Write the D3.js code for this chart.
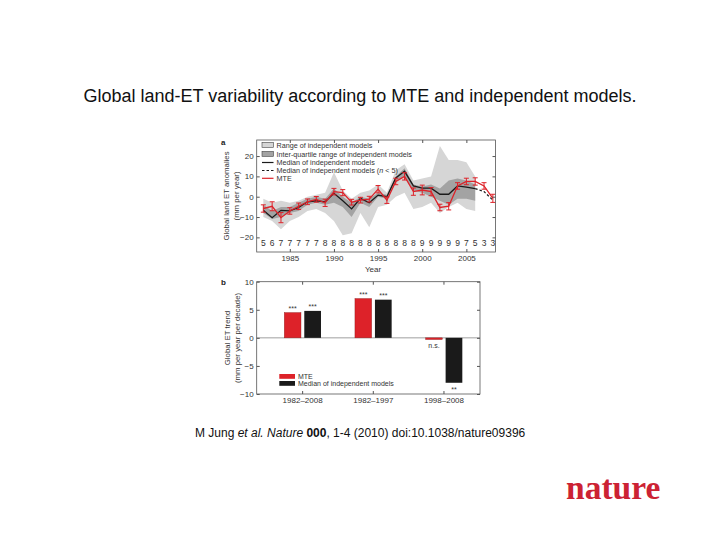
<!DOCTYPE html>
<html><head><meta charset="utf-8">
<script src="https://cdn.jsdelivr.net/npm/d3@7"></script>
<style>body{margin:0;background:#fff;} svg{display:block;font-family:"Liberation Sans",Arial,sans-serif;}</style>
</head><body>
<script>
// ---- Panel a data ----
const years = [1982,1983,1984,1985,1986,1987,1988,1989,1990,1991,1992,1993,1994,1995,1996,1997,1998,1999,2000,2001,2002,2003,2004,2005,2006,2007,2008];
const mte = [-5.8,-4.7,-10.3,-7,-4.7,-2.5,-1.3,-3,2.5,2,-2.7,-1.7,-1.2,3.7,-1.7,7.5,10,2.5,3.3,2.5,-5.3,-4.7,5.3,7.5,7.5,5.3,-0.8];
const mteErr = [1.8,2.2,2.5,1.6,1.6,1.4,1.4,1.8,1.6,1.5,1.4,1.4,1.4,1.8,1.6,1.6,1.8,1.8,2.4,2.0,1.6,1.8,1.6,1.6,1.8,1.6,2.0];
const counts = [5,6,7,7,7,7,7,8,8,8,8,8,8,8,8,8,8,8,9,9,9,9,9,7,5,3,3];
const modelYears = [1982,1983,1984,1985,1986,1987,1988,1989,1990,1991,1992,1993,1994,1995,1996,1997,1998,1999,2000,2001,2002,2003,2004,2005,2006];
const median = [-6.7,-10.3,-6.7,-7,-5.3,-2.5,-2,-2.5,1.7,-2,-6,-0.8,-3,0.8,0,9.2,12.5,5.3,4.2,4.2,1.2,1.2,5.3,4.7,4];
const rangeMax = [-1,-3,-2,-3,-2,0,1,2,12,3,-1,2,3,6,2,13,16,8,9,10,25,18,18,17,10];
const rangeMin = [-10,-12,-16,-12,-10,-7,-6,-8,-12,-19,-18,-8,-15,-5,-4,0,2,-6,-5,-3,-8,-5,-3,-6,-7];
const iqrHigh = [-4,-7,-5,-5,-3,-1,0,-1,4,0,-3,0,-1,2,1,10,14,6,5,6,4,8,9,8,6];
const iqrLow = [-8,-11,-10,-8,-7,-4,-3,-4,-3,-5,-10,-3,-5,0,-1,7,10,3,2,0,-2,-4,-1,-1,-2];
const tailYears = [2006,2007,2008];
const tailMedian = [4,2.5,-1.7];
const xTicksA = [1985,1990,1995,2000,2005];
const yTicksA = [-20,-10,0,10,20];
const legendA = ["Range of independent models","Inter-quartile range of independent models","Median of independent models","Median of independent models (n < 5)","MTE"];

// ---- Panel b data ----
const periods = ["1982–2008","1982–1997","1998–2008"];
const trendMTE = [4.5,7.0,-0.3];
const trendMedian = [4.8,6.8,-8.0];
const sigMTE = ["***","***","n.s."];
const sigMedian = ["***","***","**"];
const yTicksB = [-10,-5,0,5,10];
const legendB = ["MTE","Median of independent models"];

const RED = "#dd2229", DARK = "#1a1a1a", FRAME = "#555";
const svg = d3.select("body").append("svg").attr("width",720).attr("height",540);

// Title
svg.append("text").attr("x",360).attr("y",102).attr("text-anchor","middle")
  .attr("font-size",18).attr("fill","#111")
  .text("Global land-ET variability according to MTE and independent models.");

// ===== Panel a =====
const ax = {l:256.7, r:495.5, t:140, b:252};
const x = d3.scaleLinear().domain([1981.25,2008.3]).range([ax.l,ax.r]);
const y = d3.scaleLinear().domain([-27.2,27.9]).range([ax.b,ax.t]);
const ga = svg.append("g");

const areaR = d3.area().x((d,i)=>x(modelYears[i])).y0((d,i)=>y(rangeMin[i])).y1((d,i)=>y(rangeMax[i]));
ga.append("path").datum(modelYears).attr("d",areaR).attr("fill","#d6d6d6");
const areaQ = d3.area().x((d,i)=>x(modelYears[i])).y0((d,i)=>y(iqrLow[i])).y1((d,i)=>y(iqrHigh[i]));
ga.append("path").datum(modelYears).attr("d",areaQ).attr("fill","#a3a3a3");

const lineMed = d3.line().x((d,i)=>x(modelYears[i])).y((d,i)=>y(median[i]));
ga.append("path").datum(modelYears).attr("d",lineMed).attr("fill","none").attr("stroke",DARK).attr("stroke-width",1.3);
const lineTail = d3.line().x((d,i)=>x(tailYears[i])).y((d,i)=>y(tailMedian[i]));
ga.append("path").datum(tailYears).attr("d",lineTail).attr("fill","none").attr("stroke",DARK).attr("stroke-width",1.2).attr("stroke-dasharray","2.5,2");

// MTE error bars
years.forEach((yr,i)=>{
  const cx=x(yr), y1=y(mte[i]+mteErr[i]), y2=y(mte[i]-mteErr[i]);
  ga.append("line").attr("x1",cx).attr("x2",cx).attr("y1",y1).attr("y2",y2).attr("stroke",RED).attr("stroke-width",1);
  [y1,y2].forEach(yy=>ga.append("line").attr("x1",cx-2.5).attr("x2",cx+2.5).attr("y1",yy).attr("y2",yy).attr("stroke",RED).attr("stroke-width",1));
});
const lineMTE = d3.line().x((d,i)=>x(years[i])).y((d,i)=>y(mte[i]));
ga.append("path").datum(years).attr("d",lineMTE).attr("fill","none").attr("stroke",RED).attr("stroke-width",1.3);

// counts
years.forEach((yr,i)=>ga.append("text").attr("x",x(yr)).attr("y",246.3).attr("text-anchor","middle")
  .attr("font-size",8.5).attr("fill","#333").text(counts[i]));

// frame + ticks
ga.append("rect").attr("x",ax.l).attr("y",ax.t).attr("width",ax.r-ax.l).attr("height",ax.b-ax.t)
  .attr("fill","none").attr("stroke",FRAME).attr("stroke-width",0.8);
const axB = d3.axisBottom(x).tickValues(xTicksA).tickSize(-3).tickFormat(d3.format("d"));
const gxa = ga.append("g").attr("transform",`translate(0,${ax.b})`).call(axB);
const axT = d3.axisTop(x).tickValues(xTicksA).tickSize(-3).tickFormat("");
ga.append("g").attr("transform",`translate(0,${ax.t})`).call(axT);
const axL = d3.axisLeft(y).tickValues(yTicksA).tickSize(-3);
ga.append("g").attr("transform",`translate(${ax.l},0)`).call(axL);
const axR = d3.axisRight(y).tickValues(yTicksA).tickSize(-3).tickFormat("");
ga.append("g").attr("transform",`translate(${ax.r},0)`).call(axR);
ga.selectAll(".domain").remove();
ga.selectAll(".tick line").attr("stroke",FRAME);
ga.selectAll(".tick text").attr("font-size",8).attr("fill","#333").attr("font-family","Liberation Sans, Arial");

ga.append("text").attr("x",(ax.l+ax.r)/2-3).attr("y",271.5).attr("text-anchor","middle").attr("font-size",8).attr("fill","#333").text("Year");
ga.append("text").attr("transform","translate(229,196) rotate(-90)").attr("text-anchor","middle").attr("font-size",7.8).attr("fill","#333").text("Global land ET anomalies");
ga.append("text").attr("transform","translate(239,196) rotate(-90)").attr("text-anchor","middle").attr("font-size",7.8).attr("fill","#333").text("(mm per year)");
ga.append("text").attr("x",221).attr("y",145).attr("font-size",8).attr("font-weight","bold").attr("fill","#222").text("a");

// legend a
const legY = [145,154,162.5,170.5,178.3];
legendA.forEach((t,i)=>{
  const ly = legY[i];
  if(i<2){
    ga.append("rect").attr("x",262).attr("y",ly-2.6).attr("width",11.5).attr("height",5).attr("fill",i===0?"#d6d6d6":"#a3a3a3").attr("stroke","#444").attr("stroke-width",0.6);
  } else {
    ga.append("line").attr("x1",262).attr("x2",273.5).attr("y1",ly).attr("y2",ly)
      .attr("stroke",i===4?RED:DARK).attr("stroke-width",1.2).attr("stroke-dasharray",i===3?"2.5,2":null);
  }
  const tx = ga.append("text").attr("x",276.5).attr("y",ly+2.5).attr("font-size",7.2).attr("fill","#333");
  if(i===3){ tx.text("Median of independent models ("); tx.append("tspan").attr("font-style","italic").text("n"); tx.append("tspan").text(" < 5)"); }
  else tx.text(t);
});

// ===== Panel b =====
const bx = {l:256.7, r:480, t:281.7, b:394};
const xb = d3.scaleBand().domain(periods).range([267.3,479.3]);
const yb = d3.scaleLinear().domain([-10,10]).range([bx.b,bx.t]);
const gb = svg.append("g");
gb.append("line").attr("x1",bx.l).attr("x2",bx.r).attr("y1",yb(0)).attr("y2",yb(0)).attr("stroke","#888").attr("stroke-width",0.8);
const bw = 16.7;
periods.forEach((p,i)=>{
  const c = xb(p)+xb.bandwidth()/2;
  const v1=trendMTE[i], v2=trendMedian[i];
  gb.append("rect").attr("x",c-10-bw/2).attr("y",yb(Math.max(0,v1))).attr("width",bw).attr("height",Math.abs(yb(v1)-yb(0))).attr("fill",RED).attr("stroke","#8a1a1a").attr("stroke-width",0.4);
  gb.append("rect").attr("x",c+10-bw/2).attr("y",yb(Math.max(0,v2))).attr("width",bw).attr("height",Math.abs(yb(v2)-yb(0))).attr("fill",DARK);
  const ty1 = v1>=0 ? yb(v1)-2 : yb(v1)+8.5;
  const ty2 = v2>=0 ? yb(v2)-2 : yb(v2)+9.5;
  gb.append("text").attr("x",c-10).attr("y",ty1).attr("text-anchor","middle").attr("font-size",7).attr("fill","#333").text(sigMTE[i]);
  gb.append("text").attr("x",c+10).attr("y",ty2).attr("text-anchor","middle").attr("font-size",7).attr("fill","#333").text(sigMedian[i]);
});
gb.append("rect").attr("x",bx.l).attr("y",bx.t).attr("width",bx.r-bx.l).attr("height",bx.b-bx.t).attr("fill","none").attr("stroke",FRAME).attr("stroke-width",0.8);
const bB = d3.axisBottom(xb).tickSize(-3);
const gxb = gb.append("g").attr("transform",`translate(0,${bx.b})`).call(bB);
const bT = d3.axisTop(xb).tickSize(-3).tickFormat("");
gb.append("g").attr("transform",`translate(0,${bx.t})`).call(bT);
const bL = d3.axisLeft(yb).tickValues(yTicksB).tickSize(-3);
gb.append("g").attr("transform",`translate(${bx.l},0)`).call(bL);
const bR = d3.axisRight(yb).tickValues(yTicksB).tickSize(-3).tickFormat("");
gb.append("g").attr("transform",`translate(${bx.r},0)`).call(bR);
gb.selectAll(".domain").remove();
gb.selectAll(".tick line").attr("stroke",FRAME);
gb.selectAll(".tick text").attr("font-size",8).attr("fill","#333").attr("font-family","Liberation Sans, Arial");

gb.append("text").attr("transform","translate(230,338) rotate(-90)").attr("text-anchor","middle").attr("font-size",7.8).attr("fill","#333").text("Global ET trend");
gb.append("text").attr("transform","translate(240,338) rotate(-90)").attr("text-anchor","middle").attr("font-size",7.8).attr("fill","#333").text("(mm per year per decade)");
gb.append("text").attr("x",221).attr("y",285).attr("font-size",8).attr("font-weight","bold").attr("fill","#222").text("b");

legendB.forEach((t,i)=>{
  const ly = 376.4 + i*7;
  gb.append("rect").attr("x",279.3).attr("y",ly-2.4).attr("width",15.7).attr("height",4.8).attr("fill",i===0?RED:DARK);
  gb.append("text").attr("x",298).attr("y",ly+2.4).attr("font-size",7).attr("fill","#333").text(t);
});

// Citation
const cit = svg.append("text").attr("x",195).attr("y",437).attr("font-size",12).attr("fill","#111");
cit.append("tspan").text("M Jung ");
cit.append("tspan").attr("font-style","italic").text("et al. Nature ");
cit.append("tspan").attr("font-weight","bold").text("000");
cit.append("tspan").text(", 1-4 (2010) doi:10.1038/nature09396");

// logo
svg.append("text").attr("x",566).attr("y",498.5).attr("font-family","Liberation Serif, DejaVu Serif, serif")
  .attr("font-size",33.5).attr("font-weight","bold").attr("fill","#cc2233").text("nature");
</script>
</body></html>
